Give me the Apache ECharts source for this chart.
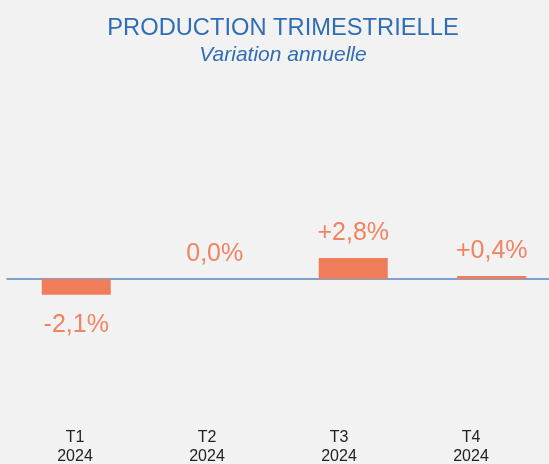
<!DOCTYPE html>
<html>
<head>
<meta charset="utf-8">
<script src="https://cdn.jsdelivr.net/npm/echarts@6/dist/echarts.min.js"></script>
<style>
  html, body { margin: 0; padding: 0; background: #f2f2f2; }
  #chart { width: 549px; height: 464px; }
</style>
</head>
<body>
<div id="chart"></div>
<script>
  const quarters = ['T1', 'T2', 'T3', 'T4'];
  const years = ['2024', '2024', '2024', '2024'];
  const variation = [-2.1, 0.0, 2.8, 0.4];

  const fmt = (v) => (v > 0 ? '+' : '') + v.toFixed(1).replace('.', ',') + '%';

  const chart = echarts.init(document.getElementById('chart'));
  const option = {
    backgroundColor: '#f2f2f2',
    title: {
      text: 'PRODUCTION TRIMESTRIELLE',
      subtext: 'Variation annuelle',
      left: 278,
      textAlign: 'center',
      top: 11,
      itemGap: 5,
      textStyle: {
        fontFamily: 'Liberation Sans',
        fontSize: 23.7,
        fontWeight: 'normal',
        color: '#2f6db5',
      },
      subtextStyle: {
        fontFamily: 'Liberation Sans',
        fontSize: 21,
        fontStyle: 'italic',
        color: '#2f6db5',
      },
    },
    grid: [
      { left: 7, width: 554, top: 204, height: 150, outerBoundsMode: 'none' },
      { left: 9, width: 528, top: 100, bottom: 43, outerBoundsMode: 'none' },
    ],
    xAxis: [
      {
        type: 'category',
        gridIndex: 0,
        data: quarters,
        axisLine: { lineStyle: { color: '#5b87c5', width: 1.5 } },
        axisTick: { show: false },
        axisLabel: { show: false },
      },
      {
        type: 'category',
        gridIndex: 1,
        data: quarters.map((q, i) => q + '\n' + years[i]),
        axisLine: { show: false },
        axisTick: { show: false },
        axisLabel: {
          margin: 7,
          fontFamily: 'Liberation Sans',
          fontSize: 16,
          lineHeight: 19,
          color: '#222222',
        },
      },
    ],
    yAxis: [
      { type: 'value', gridIndex: 0, min: -10, max: 10, show: false },
      { type: 'value', gridIndex: 1, show: false },
    ],
    series: [
      {
        type: 'bar',
        xAxisIndex: 0,
        yAxisIndex: 0,
        barWidth: 69,
        itemStyle: { color: '#f07d59' },
        data: variation.map((v) => ({
          value: v,
          label: v < 0 ? { position: 'bottom', distance: 18 } : { position: 'top' },
        })),
        label: {
          show: true,
          distance: 12,
          fontFamily: 'Liberation Sans',
          fontSize: 25,
          color: '#f08462',
          formatter: (p) => fmt(p.value),
        },
      },
    ],
  };
  chart.setOption(option);
</script>
</body>
</html>
